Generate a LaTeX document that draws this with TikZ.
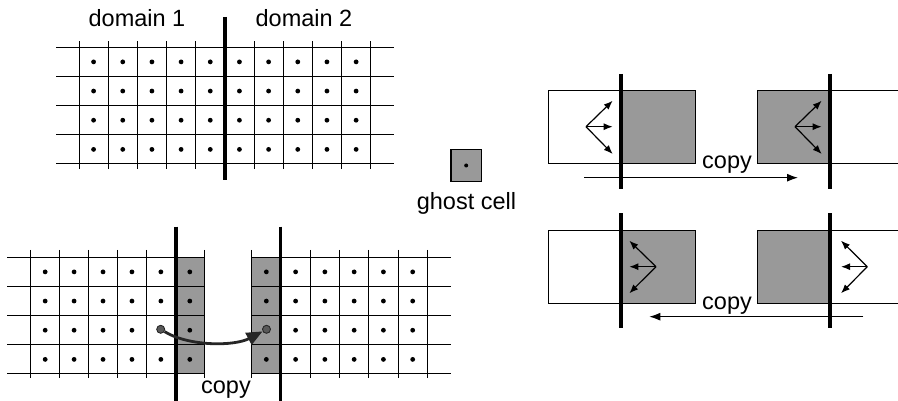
\documentclass[tikz,border=0pt]{standalone}
\usepackage{fontspec}
\setmainfont{Liberation Sans}
\usetikzlibrary{arrows.meta}
\definecolor{ghostgray}{gray}{0.6}
\definecolor{markgray}{gray}{0.35}
\definecolor{curvegray}{gray}{0.15}
\tikzset{
  gridline/.style={line width=1pt},
  wall/.style={line width=3.8pt},
  ghostfill/.style={fill=ghostgray},
  box/.style={draw, line width=1pt},
  cellpt/.style={fill=black},
  label/.style={font=\fontsize{23.5}{28}\selectfont, inner sep=0pt, anchor=base},
  flux/.style={line width=1.2pt, -{Latex[length=9pt,width=7pt]}},
  copyarrow/.style={line width=1.2pt, -{Latex[length=11pt,width=8pt]}},
  endpt/.style={circle, draw=curvegray, fill=markgray, line width=0.9pt, minimum size=8pt, inner sep=0pt},
  curvearrow/.style={draw=curvegray, line width=2.8pt, -{Triangle[length=16pt,width=13pt]}}
}
\begin{document}
\begin{tikzpicture}[x=1pt,y=-1pt]
\useasboundingbox (0,0) rectangle (898,401);

% ---------- undivided grid ----------
\foreach \r in {0,...,4}
  \draw[gridline] (56,{47.3+29.17*\r}) -- (394,{47.3+29.17*\r});
\foreach \c in {0,...,10}
  \draw[gridline] ({79+29.17*\c},41.5) -- ({79+29.17*\c},169);
\foreach \c in {0,...,9}
  \foreach \r in {0,...,3}
    \fill[cellpt] ({79+29.17*(\c+0.5)},{47.3+29.17*(\r+0.5)}) circle (2.4pt);
\draw[wall] (224.8,17) -- (224.8,180);
\node[label] (d1) at (137,26.5) {domain 1};
\node[label] (d2) at (304,26.5) {domain 2};

% ---------- domain 1 with ghost column ----------
\fill[ghostfill] (175.7,257.3) rectangle (204.3,374);
\foreach \r in {0,...,4}
  \draw[gridline] (7.3,{257.3+29.17*\r}) -- (204.3,{257.3+29.17*\r});
\foreach \c in {0,...,6}
  \draw[gridline] ({30.7+28.93*\c},250) -- ({30.7+28.93*\c},378);
\foreach \c in {0,...,5}
  \foreach \r in {0,...,3}
    \fill[cellpt] ({30.7+28.93*(\c+0.5)},{257.3+29.17*(\r+0.5)}) circle (2.4pt);
\draw[wall] (175.7,226.7) -- (175.7,401);

% ---------- domain 2 with ghost column ----------
\fill[ghostfill] (251.7,257.3) rectangle (280.5,374);
\foreach \r in {0,...,4}
  \draw[gridline] (251.7,{257.3+29.17*\r}) -- (450.7,{257.3+29.17*\r});
\foreach \c in {0,...,6}
  \draw[gridline] ({251.7+29.27*\c},250) -- ({251.7+29.27*\c},378);
\foreach \c in {0,...,5}
  \foreach \r in {0,...,3}
    \fill[cellpt] ({251.7+29.27*(\c+0.5)},{257.3+29.17*(\r+0.5)}) circle (2.4pt);
\draw[wall] (280.5,226.7) -- (280.5,401);

% copy from interior cell to ghost cell
\node[endpt] (src) at (160.7,329.3) {};
\node[endpt] (dst) at (266.5,329.3) {};
\draw[curvearrow] (src) .. controls (190,347) and (235,346) .. (dst);
\node[label] (c0) at (226,393.5) {copy};

% ---------- legend ----------
\draw[ghostfill, draw=black, line width=1.5pt] (451,149.5) rectangle (481.5,181.5);
\fill[cellpt] (466.2,165.5) circle (2pt);
\node[label] (gl) at (466.5,209.5) {ghost cell};

% ---------- flux exchange, left to right ----------
\draw[box] (548.3,91) rectangle (620.7,164);
\draw[box, ghostfill] (620.7,91) rectangle (695.7,164);
\draw[box, ghostfill] (757.3,91) rectangle (830,164);
\draw[gridline] (830,91) -- (898,91);
\draw[gridline] (830,164) -- (898,164);
\draw[wall] (620.7,74) -- (620.7,189.3);
\draw[wall] (830,74) -- (830,189.3);
\coordinate (fa) at (586,126.7);
\coordinate (fa1) at (612.7,100.7);
\coordinate (fa2) at (612.7,126.7);
\coordinate (fa3) at (612.7,154);
\draw[flux] (fa) -- (fa1);
\draw[flux] (fa) -- (fa2);
\draw[flux] (fa) -- (fa3);
\coordinate (fb) at (795,126.7);
\coordinate (fb1) at (821.7,100.7);
\coordinate (fb2) at (821.7,126.7);
\coordinate (fb3) at (821.7,154);
\draw[flux] (fb) -- (fb1);
\draw[flux] (fb) -- (fb2);
\draw[flux] (fb) -- (fb3);
\coordinate (ca) at (584,177.7);
\coordinate (cb) at (798,177.7);
\draw[copyarrow] (ca) -- (cb);
\node[label] (c1) at (727,169) {copy};

% ---------- flux exchange, right to left ----------
\draw[box] (548.3,230.7) rectangle (620.7,303.3);
\draw[box, ghostfill] (620.7,230.7) rectangle (695.7,303.3);
\draw[box, ghostfill] (757.3,230.7) rectangle (830,303.3);
\draw[gridline] (830,230.7) -- (898,230.7);
\draw[gridline] (830,303.3) -- (898,303.3);
\draw[wall] (620.7,213.3) -- (620.7,328.3);
\draw[wall] (830,213.3) -- (830,328.3);
\coordinate (ga) at (656,266.7);
\coordinate (ga1) at (629.3,240.7);
\coordinate (ga2) at (629.3,266.7);
\coordinate (ga3) at (629.3,293.3);
\draw[flux] (ga) -- (ga1);
\draw[flux] (ga) -- (ga2);
\draw[flux] (ga) -- (ga3);
\coordinate (gb) at (867.3,266.7);
\coordinate (gb1) at (841,240.7);
\coordinate (gb2) at (841,266.7);
\coordinate (gb3) at (841,293.3);
\draw[flux] (gb) -- (gb1);
\draw[flux] (gb) -- (gb2);
\draw[flux] (gb) -- (gb3);
\coordinate (da) at (863.3,316.7);
\coordinate (db) at (649.3,316.7);
\draw[copyarrow] (da) -- (db);
\node[label] (c2) at (727,309) {copy};
\end{tikzpicture}
\end{document}
